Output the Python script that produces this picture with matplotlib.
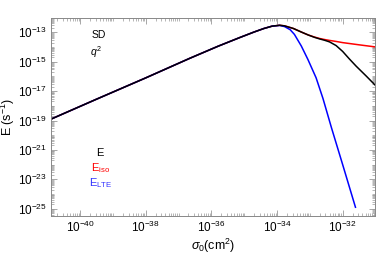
import numpy as np
import matplotlib
matplotlib.use("Agg")
import matplotlib.pyplot as plt
from matplotlib.ticker import FixedLocator, NullFormatter

plt.rcParams['font.family'] = ['Liberation Sans', 'DejaVu Sans']
plt.rcParams['mathtext.fontset'] = 'custom'
plt.rcParams['mathtext.rm'] = 'Liberation Sans'
plt.rcParams['mathtext.it'] = 'Liberation Sans:italic'

# log10(sigma_0 / cm^2) and log10(E / s^-1)
logsig_E = [-40.9, -39.5, -38.0, -36.66, -35.8, -35.14, -34.7, -34.4, -34.15,
            -33.92, -33.77, -33.5, -33.26, -33.05, -32.86, -32.7, -32.55,
            -32.4, -32.2, -32.0, -31.8, -31.59, -31.28, -30.98]
logE = [-18.92, -17.55, -16.1, -14.77, -13.95, -13.36, -12.98, -12.74, -12.58,
        -12.52, -12.56, -12.74, -12.98, -13.18, -13.34, -13.45, -13.54,
        -13.65, -13.9, -14.3, -14.8, -15.3, -15.98, -16.66]

logsig_iso = [-40.9, -39.5, -38.0, -36.66, -35.8, -35.14, -34.7, -34.4, -34.15,
              -33.92, -33.77, -33.5, -33.26, -33.05, -32.86, -32.7, -32.55,
              -32.4, -32.2, -32.0, -31.5, -30.98]
logE_iso = [-18.92, -17.55, -16.1, -14.77, -13.95, -13.36, -12.98, -12.74, -12.58,
            -12.52, -12.56, -12.74, -12.98, -13.18, -13.32, -13.42, -13.49,
            -13.55, -13.62, -13.7, -13.85, -14.0]

logsig_lte = [-40.9, -39.5, -38.0, -36.66, -35.8, -35.14, -34.7, -34.4, -34.15,
              -33.92, -33.77, -33.6, -33.47, -33.26, -33.06, -32.81, -32.6,
              -32.34, -32.0, -31.61]
logE_lte = [-18.92, -17.55, -16.1, -14.77, -13.95, -13.36, -12.98, -12.74, -12.58,
            -12.53, -12.61, -12.82, -13.14, -13.93, -14.84, -16.09, -17.5,
            -19.5, -22.0, -24.9]

x_labeled = [-40, -38, -36, -34, -32]
y_labeled = [-25, -23, -21, -19, -17, -15, -13]

fig = plt.figure(figsize=(3.79, 2.56), dpi=100)
ax = fig.add_axes([0.135, 0.156, 0.854, 0.774])

ax.plot(10**np.array(logsig_iso), 10**np.array(logE_iso), color='red', lw=1.1)
ax.plot(10**np.array(logsig_lte), 10**np.array(logE_lte), color='blue', lw=1.1)
ax.plot(10**np.array(logsig_E), 10**np.array(logE), color='black', lw=1.1)

ax.set_xscale('log')
ax.set_yscale('log')
xlo, xhi = 10**-40.88, 10**-31.02
ylo, yhi = 10**-25.5, 10**-12.02
ax.set_xlim(xlo, xhi)
ax.set_ylim(ylo, yhi)


def minor_ticks(lo, hi, labeled):
    out = []
    for e in range(int(np.floor(np.log10(lo))), int(np.ceil(np.log10(hi))) + 1):
        for m in range(1, 10):
            v = m * 10.0**e
            if lo <= v <= hi and not (m == 1 and e in labeled):
                out.append(v)
    return out


ax.xaxis.set_major_locator(FixedLocator([10.0**e for e in x_labeled]))
ax.yaxis.set_major_locator(FixedLocator([10.0**e for e in y_labeled]))
ax.set_xticklabels([r'$10^{%d}$' % e for e in x_labeled])
ax.set_yticklabels([r'$10^{%d}$' % e for e in y_labeled])
ax.xaxis.set_minor_locator(FixedLocator(minor_ticks(xlo, xhi, x_labeled)))
ax.yaxis.set_minor_locator(FixedLocator(minor_ticks(ylo, yhi, y_labeled)))
ax.xaxis.set_minor_formatter(NullFormatter())
ax.yaxis.set_minor_formatter(NullFormatter())

ax.tick_params(which='both', direction='in', top=True, right=True,
               color='#999999', labelsize=8.5, pad=3)
ax.tick_params(which='major', length=4, width=0.6)
ax.tick_params(which='minor', length=2.2, width=0.5)
for s in ax.spines.values():
    s.set_color('#888888')
    s.set_linewidth(0.7)

ax.set_xlabel(r'$\sigma_0$(cm$^2$)', fontsize=9, labelpad=1)
ax.set_ylabel(r'E (s$^{-1}$)', fontsize=9, labelpad=1)

ft = fig.transFigure
ax.text(99 / 379, 1 - 35 / 256, 'SD', transform=ft, fontsize=7.5, ha='center', va='center')
ax.text(96 / 379, 1 - 52 / 256, r'$q^2$', transform=ft, fontsize=7.5, ha='center', va='center')
ax.text(100 / 379, 1 - 153 / 256, 'E', transform=ft, fontsize=8, ha='center', va='center', color='black')
ax.text(101 / 379, 1 - 168 / 256, r'E$_\mathregular{iso}$', transform=ft, fontsize=8, ha='center', va='center', color='red')
ax.text(101 / 379, 1 - 183 / 256, r'E$_\mathregular{LTE}$', transform=ft, fontsize=8, ha='center', va='center', color='#3333ff')

fig.savefig('out.png', dpi=100)
